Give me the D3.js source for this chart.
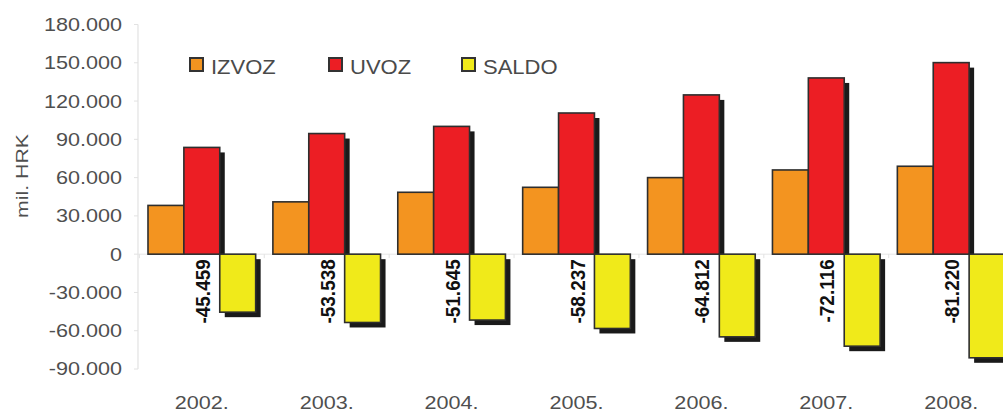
<!DOCTYPE html>
<html>
<head>
<meta charset="utf-8">
<script src="https://cdn.jsdelivr.net/npm/d3@7"></script>
<style>
  html, body { margin: 0; padding: 0; background: #fff; }
  svg { display: block; font-family: "Liberation Sans", Arial, sans-serif; }
</style>
</head>
<body>
<svg id="chart" width="1003" height="414"></svg>
<script>
const years = ["2002.", "2003.", "2004.", "2005.", "2006.", "2007.", "2008."];
const seriesNames = ["IZVOZ", "UVOZ", "SALDO"];
const izvoz = [38200, 41000, 48500, 52400, 60000, 66000, 68900];
const uvoz  = [83659, 94538, 100145, 110637, 124812, 138116, 150120];
const saldo = [-45459, -53538, -51645, -58237, -64812, -72116, -81220];
const saldoLabels = ["-45.459", "-53.538", "-51.645", "-58.237", "-64.812", "-72.116", "-81.220"];
const yTicks = [-90000, -60000, -30000, 0, 30000, 60000, 90000, 120000, 150000, 180000];
const yTickLabels = ["-90.000", "-60.000", "-30.000", "0", "30.000", "60.000", "90.000", "120.000", "150.000", "180.000"];
const colors = ["#f39420", "#ec1e24", "#f0ea1a"];

const svg = d3.select("#chart");
const axisX = 138;

const x = d3.scaleBand().domain(years).range([axisX, 1015]).paddingInner(0.138).paddingOuter(0.08);
const xs = d3.scaleBand().domain(seriesNames).range([0, x.bandwidth()]);
const y = d3.scaleLinear().domain([-90000, 180000]).range([369, 24.5]);

const rows = years.map((yr, i) => ({ year: yr, vals: [izvoz[i], uvoz[i], saldo[i]], label: saldoLabels[i] }));

// axis line & ticks
svg.append("line").attr("x1", axisX).attr("x2", axisX).attr("y1", y(180000)).attr("y2", y(-90000))
  .attr("stroke", "#e2e2e2").attr("stroke-width", 1.2);
svg.append("line").attr("x1", axisX).attr("x2", 1003).attr("y1", y(0)).attr("y2", y(0))
  .attr("stroke", "#e6e6e6").attr("stroke-width", 1);

const yAxisG = svg.append("g");
yTicks.forEach((t, i) => {
  yAxisG.append("line").attr("x1", axisX - 4).attr("x2", axisX).attr("y1", y(t)).attr("y2", y(t))
    .attr("stroke", "#e2e2e2");
  yAxisG.append("text")
    .attr("transform", `translate(122,${y(t)}) scale(1.2,1)`)
    .attr("dy", "0.36em")
    .attr("text-anchor", "end")
    .attr("font-size", 18)
    .attr("fill", "#4f4f4f")
    .text(yTickLabels[i]);
});
// category boundary ticks at zero line
years.forEach((yr) => {
  const bx = x(yr) - x.step() * x.paddingInner() / 2;
  svg.append("line").attr("x1", bx).attr("x2", bx).attr("y1", y(0)).attr("y2", y(0) + 4)
    .attr("stroke", "#e2e2e2");
});

svg.append("text")
  .attr("transform", `translate(28,176) rotate(-90) scale(1.25,1)`)
  .attr("text-anchor", "middle")
  .attr("font-size", 17)
  .attr("fill", "#4f4f4f")
  .text("mil. HRK");

const off = 5;
const groups = svg.selectAll("g.grp").data(rows).join("g").attr("class", "grp")
  .attr("transform", d => `translate(${x(d.year)},0)`);

// shadows
groups.each(function(d) {
  const g = d3.select(this);
  d.vals.forEach((v, k) => {
    const bx = xs(seriesNames[k]) + off;
    if (v >= 0) {
      g.append("rect").attr("x", bx).attr("y", y(v) + off).attr("width", xs.bandwidth())
        .attr("height", Math.max(0, y(0) - y(v) - off)).attr("fill", "#1a1a1a");
    } else {
      g.append("rect").attr("x", bx).attr("y", y(0) + off).attr("width", xs.bandwidth())
        .attr("height", y(v) - y(0)).attr("fill", "#1a1a1a");
    }
  });
});
// bars
groups.each(function(d) {
  const g = d3.select(this);
  d.vals.forEach((v, k) => {
    g.append("rect")
      .attr("x", xs(seriesNames[k]))
      .attr("y", Math.min(y(v), y(0)))
      .attr("width", xs.bandwidth())
      .attr("height", Math.abs(y(v) - y(0)))
      .attr("fill", colors[k])
      .attr("stroke", "#2e2e2e")
      .attr("stroke-width", 1.6);
  });
});
// saldo labels
groups.append("text")
  .attr("transform", d => `translate(${x.bandwidth() / 2 + 8},${y(0) + 5}) scale(1.1,1) rotate(-90)`)
  .attr("text-anchor", "end")
  .attr("font-size", 19)
  .attr("font-weight", "bold")
  .attr("fill", "#111")
  .text(d => d.label);

// year labels
svg.selectAll("text.yr").data(years).join("text").attr("class", "yr")
  .attr("transform", d => `translate(${x(d) + x.bandwidth() / 2},409) scale(1.2,1)`)
  .attr("text-anchor", "middle")
  .attr("font-size", 18)
  .attr("fill", "#4f4f4f")
  .text(d => d);

// legend
const legendX = [190, 329, 462];
seriesNames.forEach((s, k) => {
  svg.append("rect").attr("x", legendX[k]).attr("y", 58).attr("width", 13).attr("height", 13)
    .attr("fill", colors[k]).attr("stroke", "#333").attr("stroke-width", 2);
  svg.append("text")
    .attr("transform", `translate(${legendX[k] + 21},74) scale(1.1,1)`)
    .attr("font-size", 20)
    .attr("fill", "#4a4a4a")
    .text(s);
});
</script>
</body>
</html>
